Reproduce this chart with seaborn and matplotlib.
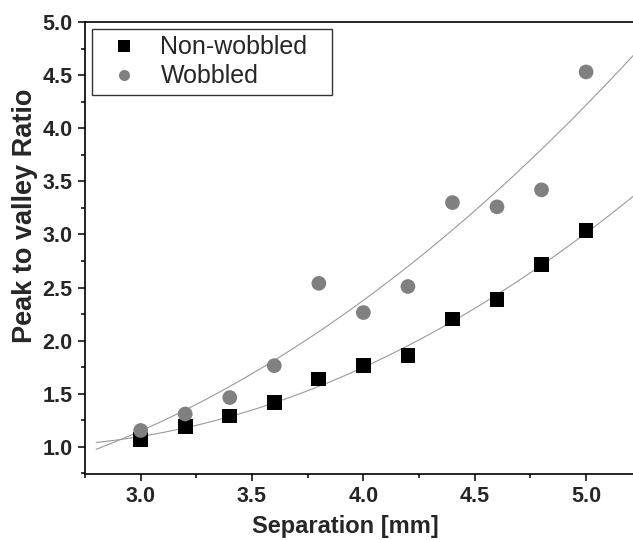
import numpy as np
import pandas as pd
import matplotlib
matplotlib.use("Agg")
import matplotlib.pyplot as plt
import seaborn as sns
from matplotlib.ticker import MultipleLocator

# ---- data ----
separation = [3.0, 3.2, 3.4, 3.6, 3.8, 4.0, 4.2, 4.4, 4.6, 4.8, 5.0]
non_wobbled = [1.07, 1.19, 1.29, 1.42, 1.64, 1.765, 1.86, 2.205, 2.39, 2.72, 3.04]
wobbled = [1.155, 1.31, 1.465, 1.765, 2.54, 2.265, 2.51, 3.30, 3.26, 3.42, 4.53]
series_names = ["Non-wobbled", "Wobbled"]
x_ticks = [3.0, 3.5, 4.0, 4.5, 5.0]
y_ticks = [1.0, 1.5, 2.0, 2.5, 3.0, 3.5, 4.0, 4.5, 5.0]

sns.set_theme(style="ticks")
plt.rcParams["font.family"] = ["Liberation Sans", "DejaVu Sans"]

df = pd.DataFrame({
    "Separation": separation * 2,
    "Ratio": non_wobbled + wobbled,
    "series": [series_names[0]] * len(separation) + [series_names[1]] * len(separation),
})

# quadratic fits
fit_x = np.linspace(2.8, 5.25, 300)
fit_rows = []
for name, vals in zip(series_names, [non_wobbled, wobbled]):
    c = np.polyfit(separation, vals, 2)
    fit_rows.append(pd.DataFrame({"Separation": fit_x, "Ratio": np.polyval(c, fit_x), "series": name}))
fit_df = pd.concat(fit_rows, ignore_index=True)

fig = plt.figure(figsize=(6.33, 5.4), dpi=100)
ax = fig.add_axes([85 / 633, 66.5 / 540, 556.75 / 633, 451.5 / 540])

sns.lineplot(data=fit_df, x="Separation", y="Ratio", hue="series",
             palette={series_names[0]: "#9a9a9a", series_names[1]: "#9a9a9a"},
             linewidth=0.8, legend=False, ax=ax, zorder=2)
sns.scatterplot(data=df, x="Separation", y="Ratio", hue="series", style="series",
                markers={series_names[0]: "s", series_names[1]: "o"},
                palette={series_names[0]: "black", series_names[1]: "#808080"},
                s=112, linewidth=0, ax=ax, zorder=3)

ax.set_xlim(2.75, 5.25)
ax.set_ylim(0.75, 5.0)
ax.set_xticks(x_ticks)
ax.set_yticks(y_ticks)
ax.xaxis.set_minor_locator(MultipleLocator(0.25))
ax.yaxis.set_minor_locator(MultipleLocator(0.25))
ax.set_xticklabels([f"{v:.1f}" for v in x_ticks])
ax.set_yticklabels([f"{v:.1f}" for v in y_ticks])
ax.tick_params(axis="both", which="major", length=5, width=1.1, labelsize=15.5, pad=4, color="black")
ax.tick_params(axis="both", which="minor", length=3, width=1.1, color="black")
for lab in ax.get_xticklabels() + ax.get_yticklabels():
    lab.set_fontweight("bold")
for sp in ["left", "bottom", "top", "right"]:
    ax.spines[sp].set_linewidth(1.2)
    ax.spines[sp].set_color("black")

ax.set_xlabel("Separation [mm]", fontsize=17, fontweight="bold", labelpad=6)
ax.xaxis.set_label_coords(0.467, -0.092)
ax.set_ylabel("Peak to valley Ratio", fontsize=19.5, fontweight="bold", labelpad=5)
ax.yaxis.set_label_coords(-0.084, 0.57)

handles, labels = ax.get_legend_handles_labels()
leg_w = 240 / 556.75
leg_h = 64 / 451.5
leg = ax.legend(handles, labels, loc="upper left",
                bbox_to_anchor=(0.012, 0.984 - leg_h, leg_w, leg_h), mode="expand",
                frameon=True, fancybox=False, edgecolor="#333333", fontsize=18,
                markerscale=0.75, borderpad=0.25, labelspacing=0.2,
                handlelength=2.1, handletextpad=0.4, borderaxespad=0)
leg.get_frame().set_linewidth(1.0)
leg.get_frame().set_alpha(1)

fig.savefig("out.png", dpi=100)
